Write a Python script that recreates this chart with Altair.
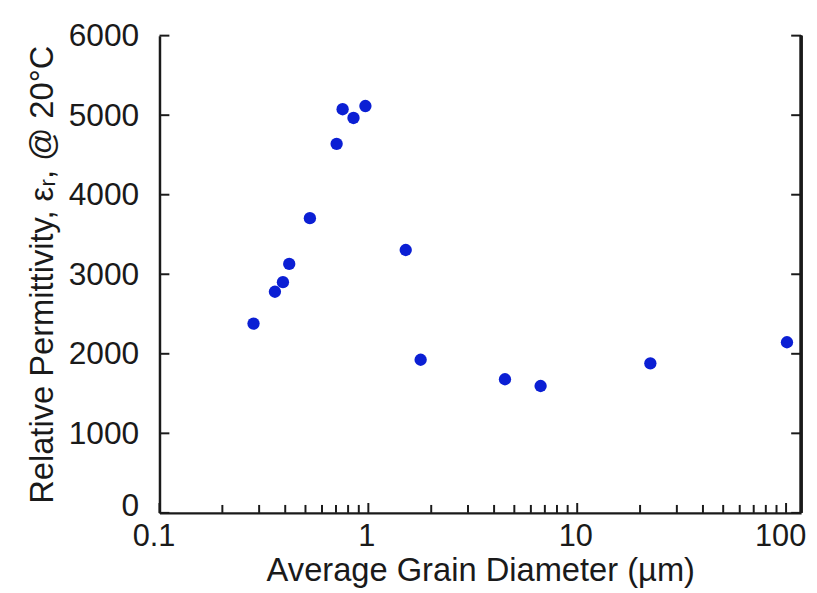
import altair as alt
import pandas as pd

# Data
diameter_um = [0.282, 0.357, 0.390, 0.418, 0.525, 0.705, 0.753, 0.849, 0.968, 1.51, 1.78, 4.51, 6.68, 22.4, 101]
permittivity = [2380, 2780, 2900, 3130, 3705, 4640, 5075, 4965, 5115, 3305, 1925, 1680, 1595, 1880, 2145]

y_ticks = [0, 1000, 2000, 3000, 4000, 5000, 6000]
x_major = [0.1, 1, 10, 100]
x_minor = [0.2, 0.3, 0.4, 0.5, 0.6, 0.7, 0.8, 0.9,
           2, 3, 4, 5, 6, 7, 8, 9,
           20, 30, 40, 50, 60, 70, 80, 90]

W, H = 648, 482
FONT = "Liberation Sans"
INK = "#1a1a1a"

pts = pd.DataFrame({"d": diameter_um, "p": permittivity})
ydf = pd.DataFrame({"p": y_ticks})
xmaj = pd.DataFrame({"d": x_major})
xmin = pd.DataFrame({"d": x_minor})

xscale = alt.Scale(type="log", domain=[0.1, 118], nice=False)
yscale = alt.Scale(domain=[0, 6000], nice=False, zero=True)

xaxis = alt.Axis(title="Average Grain Diameter (µm)", values=x_major, format="~g",
                 ticks=False, tickSize=0, labelPadding=9, titlePadding=3,
                 labelFontSize=31,
                 labelOffset={"condition": {"test": "datum.value < 0.5 || datum.value > 50", "value": -6},
                              "value": -2},
                 labelFlush=False, labelOverlap=False, grid=False)
yaxis = alt.Axis(title="Relative Permittivity, εᵣ, @ 20°C", values=y_ticks, format="d",
                 ticks=False, tickSize=0, labelPadding=21, titlePadding=9,
                 labelFontSize=32,
                 labelOffset={"condition": {"test": "datum.value == 0", "value": -7}, "value": 0},
                 grid=False)

points = alt.Chart(pts).mark_circle(size=155, color="#0b1fd4", opacity=1).encode(
    x=alt.X("d:Q", scale=xscale, axis=xaxis),
    y=alt.Y("p:Q", scale=yscale, axis=yaxis),
)

yl = alt.Chart(ydf).mark_rule(color=INK, strokeWidth=2).encode(
    y=alt.Y("p:Q", scale=yscale, axis=yaxis), x=alt.value(0), x2=alt.value(10))
yr = alt.Chart(ydf).mark_rule(color=INK, strokeWidth=2).encode(
    y=alt.Y("p:Q", scale=yscale, axis=yaxis), x=alt.value(W - 10), x2=alt.value(W))
xM = alt.Chart(xmaj).mark_rule(color=INK, strokeWidth=2).encode(
    x=alt.X("d:Q", scale=xscale, axis=xaxis), y=alt.value(H - 10), y2=alt.value(H))
xm = alt.Chart(xmin).mark_rule(color=INK, strokeWidth=2).encode(
    x=alt.X("d:Q", scale=xscale, axis=xaxis), y=alt.value(H - 8), y2=alt.value(H))
right = alt.Chart(ydf).mark_rule(color=INK, strokeWidth=2.5).encode(
    x=alt.value(W), y=alt.value(0), y2=alt.value(H))

chart = alt.layer(points, yl, yr, xM, xm, right).properties(
    width=W, height=H,
    autosize=alt.AutoSizeParams(type="none"),
    padding={"left": 153, "top": 25, "right": 8, "bottom": 77},
).configure_view(strokeWidth=0).configure_axis(
    domainColor=INK, domainWidth=2.5,
    labelFont=FONT, labelColor=INK,
    titleFont=FONT, titleFontSize=33, titleColor=INK, titleFontWeight="normal",
)

chart.save("out.html", embed_options={"renderer": "svg", "actions": False})
